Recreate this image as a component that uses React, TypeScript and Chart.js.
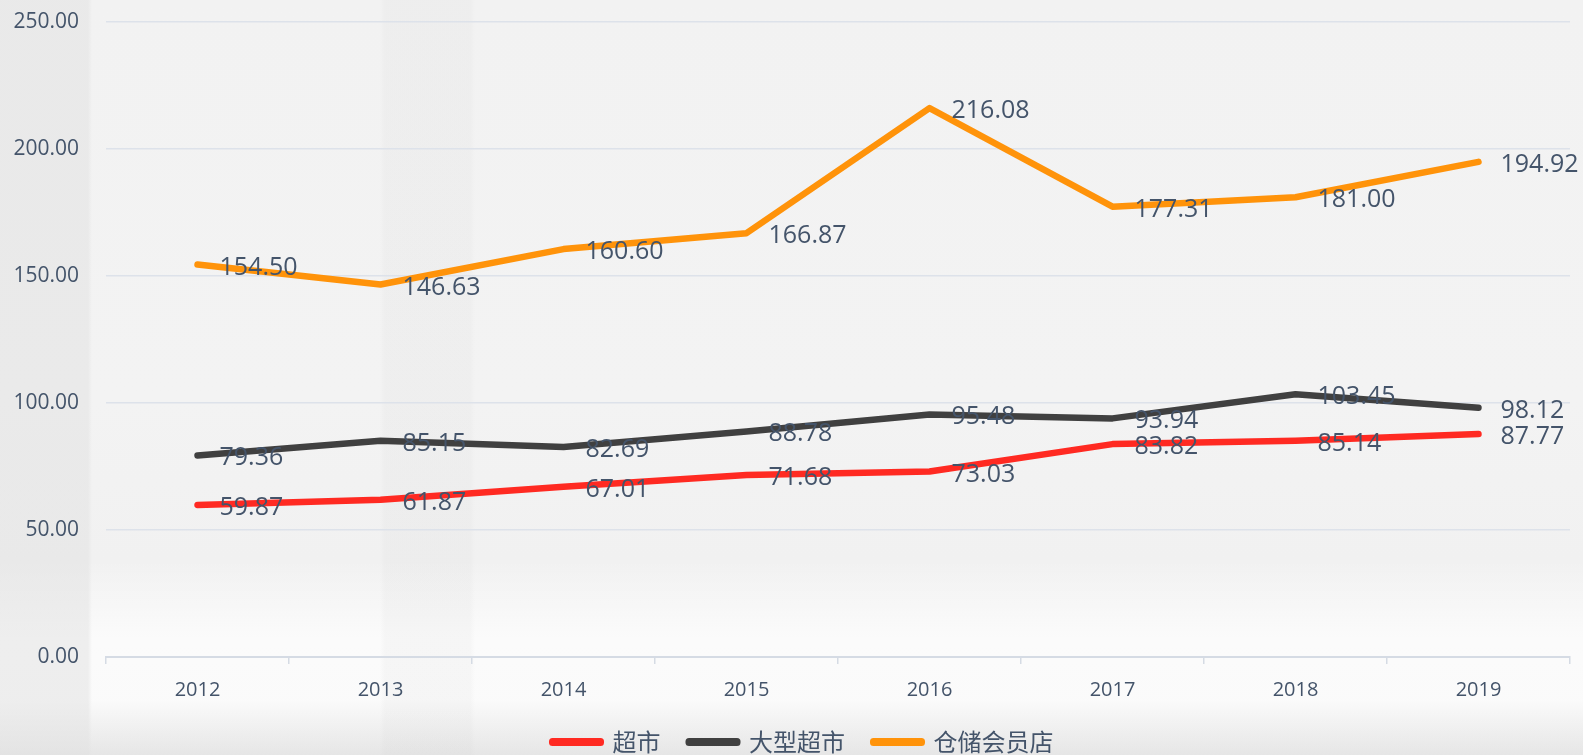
import React, { useEffect, useRef } from "react";
import { Chart, registerables } from "chart.js";

Chart.register(...registerables);

const categories = ["2012", "2013", "2014", "2015", "2016", "2017", "2018", "2019"];
const supermarket = [59.87, 61.87, 67.01, 71.68, 73.03, 83.82, 85.14, 87.77];
const hypermarket = [79.36, 85.15, 82.69, 88.78, 95.48, 93.94, 103.45, 98.12];
const warehouseClub = [154.5, 146.63, 160.6, 166.87, 216.08, 177.31, 181.0, 194.92];
const seriesNames = ["超市", "大型超市", "仓储会员店"];
const seriesColors = ["#ff2a22", "#404040", "#ff930a"];
const yTicks = { min: 0, max: 250, step: 50 };

const TEXT = "#44546a";
const GRID = "#dde2ea";

const dataLabelPlugin = {
  id: "dataLabels",
  afterDatasetsDraw(chart: any) {
    const ctx = chart.ctx;
    ctx.save();
    ctx.font = '25px "Open Sans"';
    ctx.fillStyle = TEXT;
    ctx.textAlign = "left";
    ctx.textBaseline = "alphabetic";
    chart.data.datasets.forEach((ds: any, i: number) => {
      const meta = chart.getDatasetMeta(i);
      meta.data.forEach((pt: any, j: number) => {
        const v = ds.data[j];
        ctx.fillText(Number(v).toFixed(2), pt.x + 22, pt.y + 10);
      });
    });
    ctx.restore();
  },
};

const legendShift = {
  id: "legendShift",
  afterLayout(chart: any) {
    if (chart.legend) {
      chart.legend.left += 18;
      chart.legend.right += 18;
    }
  },
};

export default function App() {
  const ref = useRef<HTMLCanvasElement>(null);
  useEffect(() => {
    document.body.style.margin = "0";
    document.body.style.overflow = "hidden";
    const chart = new Chart(ref.current!, {
      type: "line",
      data: {
        labels: categories,
        datasets: [supermarket, hypermarket, warehouseClub].map((d, i) => ({
          label: seriesNames[i],
          data: d,
          borderColor: seriesColors[i],
          backgroundColor: seriesColors[i],
          borderWidth: 6.5,
          pointRadius: 0,
          tension: 0,
          borderJoinStyle: "round" as const,
          borderCapStyle: "round" as const,
        })),
      },
      options: {
        responsive: false,
        animation: false,
        layout: { padding: { left: 0, right: 13, top: 22, bottom: 0 } },
        scales: {
          x: {
            offset: true,
            grid: { offset: true, drawOnChartArea: false, drawTicks: true, tickLength: 7, color: "#d5dbe4", lineWidth: 1.5 },
            border: { display: true, color: "#d5dbe4", width: 2 },
            ticks: { color: TEXT, font: { family: '"Open Sans"', size: 20 }, padding: 14 },
            afterFit: (s: any) => {
              s.height = 44.5;
            },
          },
          y: {
            min: yTicks.min,
            max: yTicks.max,
            ticks: {
              stepSize: yTicks.step,
              color: TEXT,
              font: { family: '"Open Sans"', size: 21 },
              padding: 27,
              callback: (v: any) => Number(v).toFixed(2),
            },
            grid: { drawTicks: false, color: GRID, lineWidth: 1.5 },
            border: { display: false },
            afterFit: (s: any) => {
              s.width = 106;
              s.paddingTop = 0;
              s.paddingBottom = 0;
            },
          },
        },
        plugins: {
          tooltip: { enabled: false },
          legend: {
            position: "bottom",
            labels: {
              boxWidth: 48,
              boxHeight: 1,
              padding: 28.5,
              color: TEXT,
              font: { family: '"Noto Sans CJK SC"', size: 24 },
              generateLabels: (c: any) =>
                Chart.defaults.plugins.legend.labels.generateLabels(c).map((l: any) => ({
                  ...l,
                  lineWidth: 7,
                  lineJoin: "round",
                  lineCap: "round",
                  lineDash: [],
                  borderRadius: 0,
                  fillStyle: l.strokeStyle,
                })),
            },
          },
        },
      },
      plugins: [dataLabelPlugin, legendShift],
    });
    return () => chart.destroy();
  }, []);

  const bg = [
    "linear-gradient(to right, rgba(225,225,225,0.5) 0px, rgba(225,225,225,0.5) 88px, rgba(0,0,0,0) 92px)",
    "linear-gradient(to right, rgba(0,0,0,0) 380px, rgba(200,200,200,0.1) 385px, rgba(200,200,200,0.1) 470px, rgba(0,0,0,0) 475px)",
    "linear-gradient(to bottom, rgba(0,0,0,0) 560px, rgba(255,255,255,0.7) 640px, rgba(255,255,255,0.6) 700px, rgba(215,215,215,0.5) 755px)",
    "linear-gradient(to bottom, #f2f2f2 0px, #f3f3f3 400px, #f1f1f1 560px, #f5f5f5 755px)",
  ].join(", ");

  return (
    <div
      style={{
        position: "fixed",
        left: 0,
        top: 0,
        width: 1583,
        height: 755,
        overflow: "hidden",
        background: bg,
      }}
    >
      <canvas ref={ref} width={1583} height={764} style={{ display: "block", width: 1583, height: 764 }} />
    </div>
  );
}
